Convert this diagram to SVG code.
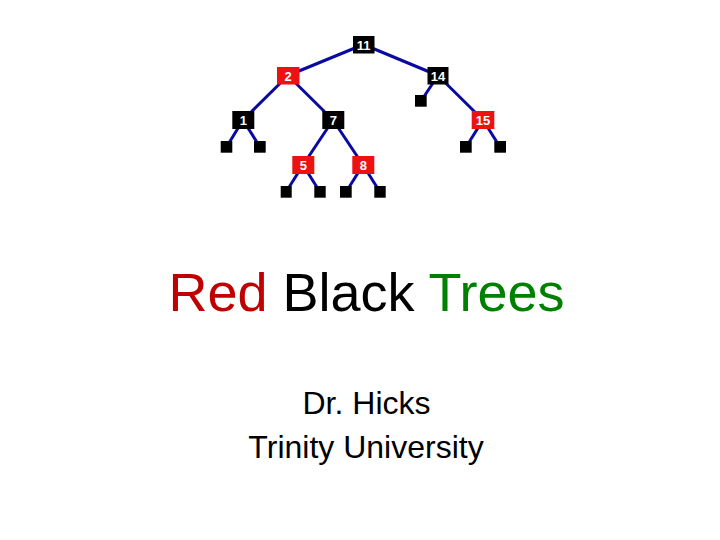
<svg xmlns="http://www.w3.org/2000/svg" width="720" height="540" viewBox="0 0 720 540">
<style>
.e{stroke:#0a0aa0;stroke-width:3;fill:none}
.b{fill:#000}
.r{fill:#ee1111}
.lf{fill:#000}
.t{font-family:"Liberation Sans",Arial,sans-serif;font-weight:bold;font-size:13px;fill:#fff;text-anchor:middle}
.big{font-family:"Liberation Sans",Arial,sans-serif;text-anchor:middle}
</style>
<rect width="720" height="540" fill="#fff"/>
<g id="connectors">
<line class="e" x1="363.5" y1="44.5" x2="288" y2="75.5"/>
<line class="e" x1="363.5" y1="44.5" x2="438" y2="75.5"/>
<line class="e" x1="288" y1="75.5" x2="243" y2="120"/>
<line class="e" x1="288" y1="75.5" x2="333" y2="120"/>
<line class="e" x1="438" y1="75.5" x2="421" y2="101"/>
<line class="e" x1="438" y1="75.5" x2="483" y2="120"/>
<line class="e" x1="243" y1="120" x2="226.5" y2="147"/>
<line class="e" x1="243" y1="120" x2="260" y2="147"/>
<line class="e" x1="333" y1="120" x2="303" y2="165"/>
<line class="e" x1="333" y1="120" x2="363" y2="165"/>
<line class="e" x1="483" y1="120" x2="466" y2="147"/>
<line class="e" x1="483" y1="120" x2="500" y2="147"/>
<line class="e" x1="303" y1="165" x2="286" y2="192"/>
<line class="e" x1="303" y1="165" x2="320" y2="192"/>
<line class="e" x1="363" y1="165" x2="346" y2="192"/>
<line class="e" x1="363" y1="165" x2="380" y2="192"/>
</g>
<g id="n11"><rect class="b" x="353" y="36" width="21.5" height="17.5"/><text class="t" x="363.7" y="49.5">11</text></g>
<g id="n2"><rect class="r" x="277" y="67" width="22.5" height="17.5"/><text class="t" x="288.2" y="80.5">2</text></g>
<g id="n14"><rect class="b" x="427.5" y="67" width="21" height="17.5"/><text class="t" x="438" y="80.5">14</text></g>
<g id="n1"><rect class="b" x="232.3" y="111" width="22" height="18"/><text class="t" x="243.3" y="124.7">1</text></g>
<g id="n7"><rect class="b" x="322.3" y="111" width="22" height="18"/><text class="t" x="333.3" y="124.7">7</text></g>
<g id="n15"><rect class="r" x="471.7" y="111" width="22.6" height="18"/><text class="t" x="483" y="124.7">15</text></g>
<g id="n5"><rect class="r" x="292.3" y="156" width="22" height="18"/><text class="t" x="303.3" y="169.7">5</text></g>
<g id="n8"><rect class="r" x="352.3" y="156" width="22" height="18"/><text class="t" x="363.3" y="169.7">8</text></g>
<g id="leaf14"><rect class="lf" x="415" y="95" width="11.7" height="11.7"/></g>
<g id="leaf1a"><rect class="lf" x="220.7" y="141" width="11.6" height="11.7"/></g>
<g id="leaf1b"><rect class="lf" x="254" y="141" width="11.7" height="11.7"/></g>
<g id="leaf15a"><rect class="lf" x="460" y="141" width="11.7" height="11.7"/></g>
<g id="leaf15b"><rect class="lf" x="494.3" y="141" width="11.7" height="11.7"/></g>
<g id="leaf5a"><rect class="lf" x="280.7" y="186" width="11" height="11.7"/></g>
<g id="leaf5b"><rect class="lf" x="314.3" y="186" width="11.4" height="11.7"/></g>
<g id="leaf8a"><rect class="lf" x="340" y="186" width="11.7" height="11.7"/></g>
<g id="leaf8b"><rect class="lf" x="374.3" y="186" width="11.4" height="11.7"/></g>
<text class="big" x="366.5" y="311" font-size="54"><tspan fill="#c00000">Red</tspan> <tspan fill="#000">Black</tspan> <tspan fill="#008000">Trees</tspan></text>
<text class="big" x="366.5" y="413.5" font-size="32" fill="#000">Dr. Hicks</text>
<text class="big" x="366" y="458" font-size="32" fill="#000">Trinity University</text>
</svg>
